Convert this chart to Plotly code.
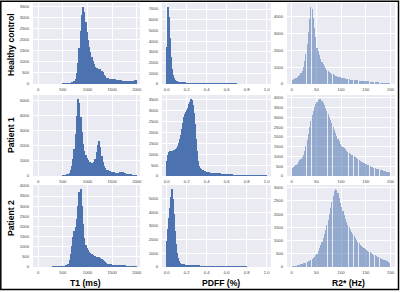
import plotly.graph_objects as go

# ---------------- data (histogram bin counts) ----------------
# T1 bins: 25 ms wide starting at 0 ms
hc_t1 = [
    0, 0, 0, 0, 0, 0, 0, 0, 0, 0,
    0, 0, 0, 0, 0, 0, 0, 0, 0, 0,
    5, 8, 12, 18, 25, 35, 45, 60, 80, 120,
    230, 480, 950, 1650, 2400, 3150, 3500, 3250, 2800, 2350,
    2000, 1700, 1450, 1230, 1050, 900, 790, 720, 690, 700,
    670, 610, 530, 430, 350, 290, 255, 235, 225, 220,
    215, 210, 205, 200, 190, 180, 170, 160, 150, 140,
    130, 125, 120, 120, 120, 125, 135, 150, 165, 175]
p1_t1 = [
    0, 0, 0, 0, 0, 0, 0, 0, 0, 0,
    0, 0, 0, 0, 0, 0, 0, 0, 0, 0,
    10, 25, 50, 80, 130, 220, 380, 650, 1100, 1800,
    2800, 4000, 5100, 4800, 3900, 2900, 2100, 1650, 1400, 1200,
    1050, 950, 900, 870, 860, 950, 1150, 1600, 2050, 2300,
    1950, 1350, 900, 650, 500, 430, 380, 340, 310, 285,
    260, 240, 220, 205, 200, 210, 240, 265, 250, 210,
    170, 140, 115, 100, 85, 72, 62, 52, 46, 40]
p2_t1 = [
    0, 0, 0, 0, 0, 0, 0, 0, 0, 0,
    0, 0, 5, 8, 10, 15, 18, 20, 25, 30,
    35, 45, 60, 90, 170, 330, 620, 1050, 1500, 1780,
    1950, 2350, 3000, 3700, 3850, 3000, 2100, 1450, 1100, 920,
    820, 750, 690, 640, 590, 550, 520, 500, 490, 475,
    440, 390, 330, 280, 230, 195, 170, 150, 135, 125,
    115, 105, 95, 90, 85, 78, 72, 66, 60, 55,
    50, 46, 42, 38, 35, 32, 30, 28, 26, 24]

# PDFF bins: 0.01 wide starting at 0
hc_pdff = [
    3500, 7200, 6300, 4300, 2500, 1400, 850, 560, 400, 310,
    250, 210, 180, 160, 140, 125, 115, 105, 95, 88,
    80, 75, 70, 66, 62, 58, 55, 52, 49, 46,
    43, 40, 38, 36, 34, 32, 30, 28, 26, 24,
    22, 20, 18, 16, 15, 14, 13, 12, 11, 10,
    9, 8, 7, 6, 5, 5, 4, 4, 3, 3,
    2, 2, 2, 2, 2, 1, 1, 1, 1, 1,
    0, 0, 0, 0, 0, 0, 0, 0, 0, 0,
    0, 0, 0, 0, 0, 0, 0, 0, 0, 0,
    0, 0, 0, 0, 0, 0, 0, 0, 0, 0]
p1_pdff = [
    700, 950, 1120, 1160, 1170, 1160, 1170, 1180, 1200, 1230,
    1300, 1400, 1520, 1680, 1900, 2150, 2450, 2700, 2850, 2950,
    3050, 3150, 3300, 3420, 3550, 3480, 3250, 2900, 2400, 1700,
    1150, 700, 480, 370, 310, 280, 255, 235, 215, 200,
    185, 172, 162, 153, 145, 138, 132, 127, 123, 120,
    125, 128, 125, 120, 114, 108, 102, 96, 90, 84,
    78, 72, 66, 60, 55, 50, 45, 40, 36, 32,
    28, 25, 22, 20, 18, 16, 14, 12, 11, 10,
    9, 8, 7, 6, 6, 5, 5, 4, 4, 3,
    3, 3, 2, 2, 2, 2, 1, 1, 1, 1]
p2_pdff = [
    1900, 2800, 3600, 4300, 5100, 5700, 5000, 3900, 2600, 1700,
    1050, 650, 420, 310, 250, 220, 200, 185, 172, 160,
    150, 142, 135, 128, 120, 114, 108, 102, 96, 90,
    85, 80, 75, 70, 65, 60, 56, 52, 48, 44,
    40, 37, 34, 31, 28, 26, 24, 22, 20, 18,
    16, 14, 12, 11, 10, 9, 8, 7, 6, 5,
    5, 4, 4, 3, 3, 3, 2, 2, 2, 2,
    2, 1, 1, 1, 1, 1, 1, 1, 1, 1,
    0, 0, 0, 0, 0, 0, 0, 0, 0, 0,
    0, 0, 0, 0, 0, 0, 0, 0, 0, 0]

# R2* bins: 2.5 Hz wide starting at 0
hc_r2 = [
    250, 270, 300, 350, 400, 470, 550, 650, 800, 1000,
    1350, 1800, 2400, 3100, 3900, 4600, 4450, 3950, 3350, 2800,
    2150, 1950, 1700, 1500, 1330, 1180, 1060, 950, 860, 790,
    730, 670, 620, 575, 535, 500, 465, 435, 410, 390,
    370, 350, 335, 320, 305, 290, 278, 266, 255, 245,
    235, 226, 218, 210, 202, 195, 188, 182, 176, 170,
    165, 158, 150, 143, 136, 129, 122, 115, 108, 101,
    95, 89, 83, 77, 72, 67, 62, 57, 52, 48]
p1_r2 = [
    400, 440, 490, 550, 620, 700, 800, 880, 950, 1100,
    1300, 1550, 1820, 2150, 2500, 2840, 3100, 3350, 3530, 3680,
    3800, 3900, 3950, 3930, 3860, 3760, 3640, 3500, 3350, 3200,
    3040, 2870, 2700, 2530, 2360, 2200, 2050, 1900, 1770, 1640,
    1550, 1480, 1420, 1360, 1300, 1250, 1200, 1150, 1100, 1050,
    1000, 950, 900, 860, 820, 780, 740, 705, 670, 635,
    600, 570, 540, 510, 480, 455, 430, 405, 380, 360,
    340, 320, 300, 282, 265, 248, 230, 215, 200, 185]
p2_r2 = [
    25, 30, 35, 45, 60, 75, 90, 105, 120, 135,
    150, 170, 190, 210, 235, 260, 290, 330, 380, 440,
    510, 600, 700, 820, 950, 1100, 1250, 1400, 1570, 1780,
    2000, 2230, 2450, 2680, 2870, 2950, 2920, 2780, 2600, 2420,
    2250, 2100, 1950, 1820, 1700, 1600, 1500, 1410, 1320, 1240,
    1160, 1090, 1020, 960, 900, 850, 800, 760, 720, 685,
    650, 620, 585, 550, 520, 495, 470, 445, 420, 395,
    370, 345, 320, 295, 275, 255, 230, 210, 185, 165]

row_labels = ["Healthy control", "Patient 1", "Patient 2"]
col_titles = ["T1 (ms)", "PDFF (%)", "R2* (Hz)"]
bin_widths = [25, 0.01, 2.5]
y_dticks = [[500, 1000, 1000], [1000, 500, 500], [500, 1000, 500]]
x_dticks = [500, 0.2, 50]
x_formats = ["d", ".1f", "d"]
values = [[hc_t1, hc_pdff, hc_r2], [p1_t1, p1_pdff, p1_r2], [p2_t1, p2_pdff, p2_r2]]

# ---------------- layout geometry ----------------
W, H = 400, 292
x_ranges = [[-105, 2065], [-0.047, 1.043], [-9.5, 209]]
x_px = [(33, 140), (162, 271), (287, 395)]
y_px = [(3, 84), (95, 176), (185, 267)]
DARK = "#4C72B0"
LIGHT = "rgba(76,114,176,0.55)"
FONT = "Liberation Sans, Arial, sans-serif"

fig = go.Figure()
layout = {}
for r in range(3):
    for c in range(3):
        i = r * 3 + c + 1
        sfx = "" if i == 1 else str(i)
        vals = values[r][c]
        w = bin_widths[c]
        centers = [w * (k + 0.5) for k in range(len(vals))]
        fig.add_trace(go.Bar(
            x=centers, y=vals,
            width=w if c < 2 else w * 0.88,
            marker=dict(color=DARK if c < 2 else LIGHT, line=dict(width=0)),
            xaxis="x" + sfx, yaxis="y" + sfx, hoverinfo="skip", showlegend=False))
        layout["xaxis" + sfx] = dict(
            domain=[x_px[c][0] / W, x_px[c][1] / W], anchor="y" + sfx,
            range=x_ranges[c], tick0=0, dtick=x_dticks[c], tickformat=x_formats[c],
            showgrid=True, gridcolor="white", gridwidth=1, zeroline=False,
            showline=False, ticks="", ticklabelstandoff=2, automargin=False,
            tickfont=dict(size=4.2, color="#444", family=FONT))
        layout["yaxis" + sfx] = dict(
            domain=[1 - y_px[r][1] / H, 1 - y_px[r][0] / H], anchor="x" + sfx,
            range=[0, max(vals) * 1.05], tick0=0, dtick=y_dticks[r][c], tickformat="d",
            showgrid=True, gridcolor="white", gridwidth=1, zeroline=False,
            showline=False, ticks="", ticklabelstandoff=3, automargin=False,
            tickfont=dict(size=4.2, color="#444", family=FONT))

annotations = []
row_centers = [45, 135, 218]
for r, lab in enumerate(row_labels):
    annotations.append(dict(
        text="<b>" + lab + "</b>", x=11 / W, y=1 - row_centers[r] / H,
        xref="paper", yref="paper", showarrow=False, textangle=-90,
        xanchor="center", yanchor="middle",
        font=dict(size=8.6, color="black", family=FONT)))
title_centers = [85, 221, 348]
for c, lab in enumerate(col_titles):
    annotations.append(dict(
        text="<b>" + lab + "</b>", x=title_centers[c] / W, y=1 - 282.5 / H,
        xref="paper", yref="paper", showarrow=False,
        xanchor="center", yanchor="middle",
        font=dict(size=8.6, color="black", family=FONT)))

fig.update_layout(
    width=W, height=H, autosize=False, margin=dict(l=0, r=0, t=0, b=0, pad=0),
    paper_bgcolor="white", plot_bgcolor="#EAEAF2",
    bargap=0, annotations=annotations,
    shapes=[dict(type="rect", xref="paper", yref="paper",
                 x0=0.8 / W, x1=398.5 / W, y0=1 - 289.5 / H, y1=1 - 1.2 / H,
                 line=dict(color="black", width=1.5))],
    **layout)

fig.write_html(
    "out.html",
    config={"responsive": False, "displayModeBar": False},
    post_script="document.body.style.margin='0';document.body.style.padding='0';"
                "document.body.style.overflow='hidden';",
)
